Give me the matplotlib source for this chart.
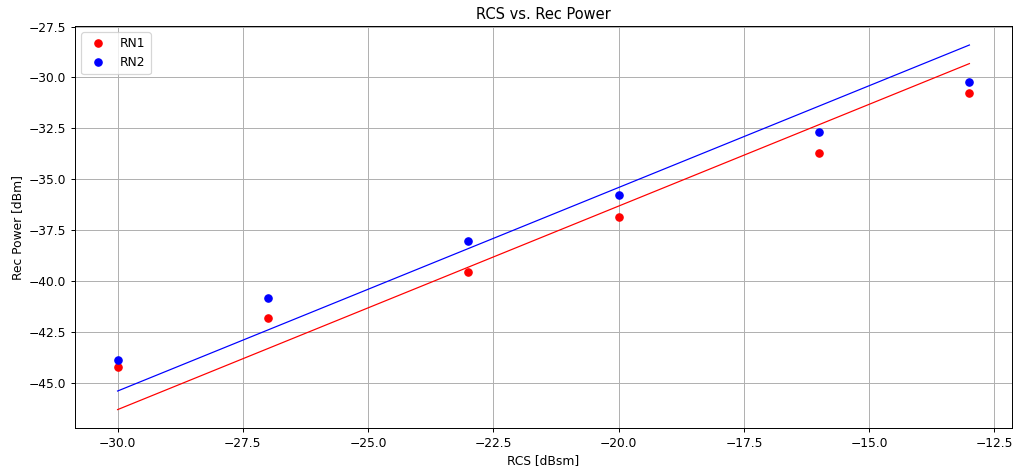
import numpy as np
import matplotlib
matplotlib.use('Agg')
import matplotlib.pyplot as plt

rcs = np.array([-30, -27, -23, -20, -16, -13], dtype=float)
rn1 = np.array([-44.22, -41.81, -39.56, -36.83, -33.73, -30.75])
rn2 = np.array([-43.89, -40.83, -38.04, -35.75, -32.68, -30.23])

# slope-1 fit (power follows RCS dB for dB), offset from the mean
off1 = np.mean(rn1 - rcs)
off2 = np.mean(rn2 - rcs)

dpi = 88
fig = plt.figure(figsize=(1013 / dpi, 468 / dpi), dpi=dpi)
ax = fig.add_axes([75 / 1013, 1 - 428 / 468, (1012 - 75) / 1013, (428 - 26) / 468])

ax.plot(rcs, rn1, 'ro', label='RN1')
ax.plot(rcs, rn2, 'bo', label='RN2')
ax.plot(rcs, rcs + off1, 'r-', linewidth=1)
ax.plot(rcs, rcs + off2, 'b-', linewidth=1)

ax.set_xlim(-30.85, -12.15)
ax.set_ylim(-47.22, -27.47)
ax.grid(True)
ax.set_title('RCS vs. Rec Power')
ax.set_xlabel('RCS [dBsm]')
ax.set_ylabel('Rec Power [dBm]')
ax.legend(loc='upper left')

fig.savefig('out.png', dpi=dpi)
